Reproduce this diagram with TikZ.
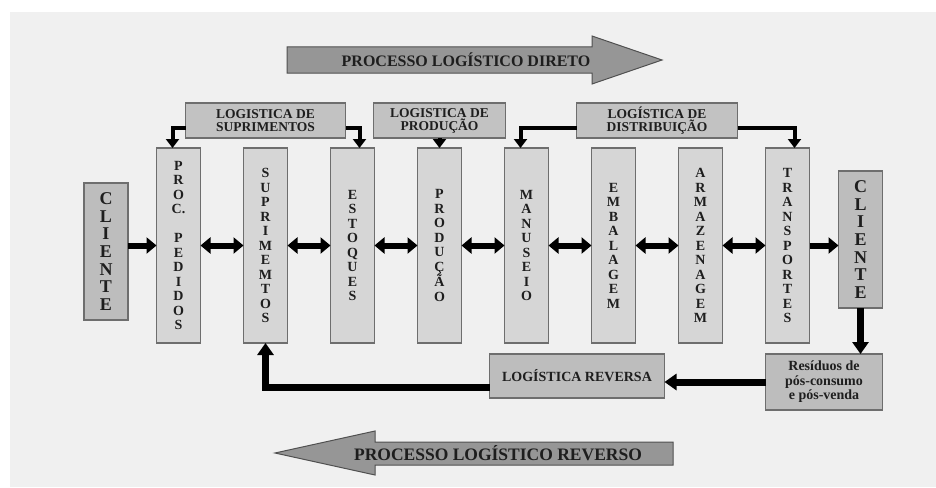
\documentclass[tikz,border=0pt]{standalone}
\usepackage{fontspec}
\setmainfont{Liberation Serif}
\usetikzlibrary{arrows.meta,positioning,calc}
\definecolor{bggray}{HTML}{F0F0F0}
\definecolor{colfill}{HTML}{D6D6D6}
\definecolor{clifill}{HTML}{BDBDBD}
\definecolor{lblfill}{HTML}{C2C2C2}
\definecolor{boxline}{HTML}{6E6E6E}
\definecolor{arrfill}{HTML}{969696}
\definecolor{arrline}{HTML}{505050}
\definecolor{txt}{HTML}{1E1E1E}

\begin{document}
\begin{tikzpicture}[
  x=1pt, y=-1pt,
  node distance = 43pt,
  every node/.style = {inner sep=0pt, outer sep=0pt, text=txt},
  col/.style = {rectangle, draw=boxline, line width=1.2pt, fill=colfill,
    minimum width=44pt, minimum height=195pt, align=center,
    font=\fontsize{14}{14.5}\selectfont\bfseries},
  client/.style = {col, fill=clifill, minimum height=137pt,
    font=\fontsize{18}{17.7}\selectfont\bfseries},
  lbox/.style = {rectangle, draw=boxline, line width=1.2pt, fill=lblfill,
    minimum height=35pt, align=center,
    font=\fontsize{13.5}{13}\selectfont\bfseries},
  rbox/.style = {lbox, fill=clifill},
  bigarrow/.style = {fill=arrfill, draw=arrline, line width=1pt},
  bigtxt/.style = {font=\fontsize{16}{16}\selectfont\bfseries},
  harr/.style = {line width=6pt, -{Triangle[length=10pt,width=16pt]}},
  darr/.style = {line width=6pt,
    {Triangle[length=10pt,width=16pt]}-{Triangle[length=10pt,width=16pt]}},
  carr/.style = {line width=4pt, -{Triangle[length=9pt,width=13pt]}},
  rarr/.style = {line width=7pt, -{Triangle[length=12pt,width=16pt]}}
]
\useasboundingbox (0,0) rectangle (936,487);
\fill[white] (0,0) rectangle (936,487);
\fill[bggray] (10,12) rectangle (936,487);

\node[client] (cli1) at (106,251.5) {C\\L\\I\\E\\N\\T\\E};
\node[col] (proc) at (178.5,245.5) {P\\R\\O\\C.\\[14.5pt]P\\E\\D\\I\\D\\O\\S};
\node[col, right=of proc] (sup) {S\\U\\P\\R\\I\\M\\E\\M\\T\\O\\S};
\node[col, right=of sup]  (est) {E\\S\\T\\O\\Q\\U\\E\\S};
\node[col, right=of est]  (prod) {P\\R\\O\\D\\U\\Ç\\Ã\\O};
\node[col, right=of prod] (man) {M\\A\\N\\U\\S\\E\\I\\O};
\node[col, right=of man]  (emb) {E\\M\\B\\A\\L\\A\\G\\E\\M};
\node[col, right=of emb]  (arm) {A\\R\\M\\A\\Z\\E\\N\\A\\G\\E\\M};
\node[col, right=of arm]  (tra) {T\\R\\A\\N\\S\\P\\O\\R\\T\\E\\S};
\node[client, right=29pt of tra.east, anchor=west, yshift=6pt] (cli2) {C\\L\\I\\E\\N\\T\\E};

\node[lbox, minimum width=160pt, above=10pt of sup]  (lsup)  {LOGISTICA DE\\SUPRIMENTOS};
\node[lbox, minimum width=132pt, above=10pt of prod] (lprod) {LOGISTICA DE\\PRODUÇÃO};
\node[lbox, minimum width=161pt, anchor=south] (ldist)
  at ($(emb.north)!.5!(arm.north)+(0,-10)$) {LOGÍSTICA DE\\DISTRIBUIÇÃO};

\node[rbox, minimum width=117pt, minimum height=56pt, anchor=north east,
  font=\fontsize{14}{14.5}\selectfont\bfseries] (res)
  at ([yshift=-46pt]cli2.south east) {Resíduos de\\pós-consumo\\e pós-venda};
\node[rbox, minimum width=175pt, minimum height=44pt, anchor=north east,
  font=\fontsize{14}{14}\selectfont\bfseries] (rev)
  at ([xshift=-101pt]res.north west) {LOGÍSTICA REVERSA};

\draw[bigarrow] (287,47) -- (592,47) -- (592,36) -- (662,60) -- (592,84)
  -- (592,73) -- (287,73) -- cycle;
\node[bigtxt] (dir) at (466,60) {PROCESSO LOGÍSTICO DIRETO};
\draw[bigarrow] (673,442) -- (375,442) -- (375,431) -- (275,453) -- (375,475)
  -- (375,465) -- (673,465) -- cycle;
\node[bigtxt, font=\fontsize{17.5}{17.5}\selectfont\bfseries] (inv) at (498,453.5)
  {PROCESSO LOGÍSTICO REVERSO};

\draw[harr] (cli1.east |- proc.west) -- (proc.west);
\foreach \a/\b in {proc/sup, sup/est, est/prod, prod/man, man/emb, emb/arm, arm/tra}
  \draw[darr] (\a) -- (\b);
\draw[harr] (tra.east) -- (tra.east -| cli2.west);

\draw[carr] ([yshift=-7pt]lsup.west) -| ([xshift=-6pt]proc.north);
\draw[carr] ([yshift=-7pt]lsup.east) -| ([xshift=7pt]est.north);
\draw[carr] (lprod) -- (prod);
\draw[carr] ([yshift=-7pt]ldist.west) -| ([xshift=-6pt]man.north);
\draw[carr] ([yshift=-7pt]ldist.east) -| ([xshift=7pt]tra.north);

\draw[rarr] (cli2.south) -- (cli2.south |- res.north);
\draw[rarr] (res.west) -- (res.west -| rev.east);
\draw[rarr] ([yshift=-11pt]rev.west) -| (sup.south);
\end{tikzpicture}
\end{document}
